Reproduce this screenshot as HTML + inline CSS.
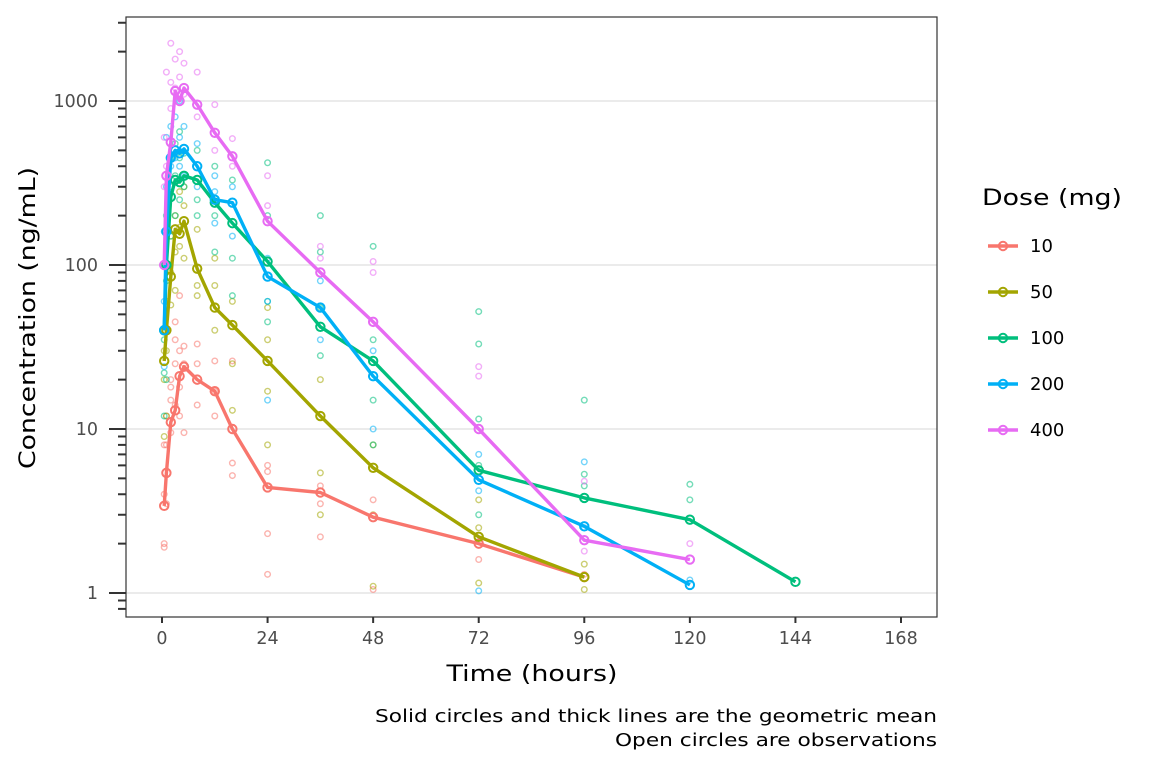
<!DOCTYPE html>
<html><head><meta charset="utf-8"><style>
body{margin:0;background:#fff;font-family:"Liberation Sans","DejaVu Sans",sans-serif}
svg text{font-family:"DejaVu Sans","Liberation Sans",sans-serif}
</style></head><body>
<svg id="chart" width="1152" height="768" xmlns="http://www.w3.org/2000/svg">
<g id="grid"></g><g id="obs"></g><g id="means"></g><g id="axes"></g><g id="legend"></g>
<text x="0" y="0" transform="translate(35,318) rotate(-90)" text-anchor="middle" font-size="22" fill="#000" textLength="302" lengthAdjust="spacingAndGlyphs">Concentration (ng/mL)</text>
<text x="532" y="681" text-anchor="middle" font-size="22" fill="#000" textLength="171" lengthAdjust="spacingAndGlyphs">Time (hours)</text>
<text x="937" y="722" text-anchor="end" font-size="18" fill="#000" textLength="562" lengthAdjust="spacingAndGlyphs">Solid circles and thick lines are the geometric mean</text>
<text x="937" y="746" text-anchor="end" font-size="18" fill="#000" textLength="322" lengthAdjust="spacingAndGlyphs">Open circles are observations</text>
</svg>
<script>
const doses=["10","50","100","200","400"];
const colors=["#F8766D","#A3A500","#00BF7D","#00B0F6","#E76BF3"];
const times=[0.5,1,2,3,4,5,8,12,16,24,36,48,72,96,120,144];
const mean10=[3.4,5.4,11,13,21,24,20,17,10,4.4,4.1,2.9,2.0,1.25];
const mean50=[26,40,85,165,155,185,95,55,43,26,12,5.8,2.2,1.25];
const mean100=[40,100,260,330,320,350,330,240,180,105,42,26,5.6,3.8,2.8,1.17];
const mean200=[40,160,450,500,480,510,400,250,240,85,55,21,4.9,2.55,1.12];
const mean400=[100,350,560,1150,1000,1200,950,640,460,185,90,45,10,2.1,1.6];
const means=[mean10,mean50,mean100,mean200,mean400];
const obs10=[[0.5,2],[0.5,1.9],[0.5,4],[0.5,8],[1,3.5],[1,8],[1,12],[2,15],[2,18],[2,9.5],[2,20],[3,25],[3,35],[3,45],[3,14],[4,18],[4,30],[4,65],[4,12],[5,9.5],[5,25],[5,32],[8,14],[8,25],[8,33],[12,12],[12,17],[12,26],[16,5.2],[16,6.2],[16,26],[24,1.3],[24,2.3],[24,5.5],[24,6],[36,2.2],[36,3.5],[36,4.5],[48,1.05],[48,3.7],[72,1.6],[96,1.3]];
const obs50=[[0.5,9],[0.5,20],[0.5,30],[1,12],[1,30],[1,60],[2,57],[2,90],[2,150],[3,70],[3,120],[3,200],[4,130],[4,170],[4,280],[5,230],[5,300],[5,110],[8,65],[8,75],[8,165],[12,40],[12,75],[12,110],[16,13],[16,25],[16,60],[24,8],[24,17],[24,35],[24,55],[36,3],[36,5.4],[36,20],[48,1.1],[48,3],[48,8],[72,1.15],[72,2.5],[72,3.7],[96,1.05],[96,1.5]];
const obs100=[[0.5,12],[0.5,22],[0.5,35],[1,20],[1,80],[1,200],[2,300],[2,450],[2,150],[3,200],[3,350],[3,550],[4,250],[4,450],[4,650],[5,300],[5,480],[8,200],[8,250],[8,500],[12,120],[12,200],[12,400],[16,65],[16,110],[16,330],[24,45],[24,60],[24,200],[24,420],[36,28],[36,55],[36,120],[36,200],[48,8],[48,15],[48,35],[48,130],[72,3],[72,6],[72,11.5],[72,33],[72,52],[96,4.5],[96,5.3],[96,15],[120,3.7],[120,4.6]];
const obs200=[[0.5,24],[0.5,60],[0.5,160],[1,100],[1,300],[1,600],[2,400],[2,700],[3,450],[3,800],[4,400],[4,600],[4,1000],[5,350],[5,700],[8,300],[8,550],[12,180],[12,280],[12,350],[16,150],[16,300],[24,15],[24,60],[24,110],[36,35],[36,80],[48,10],[48,30],[72,1.03],[72,4.2],[72,7],[96,2.5],[96,6.3],[120,1.2]];
const obs400=[[0.5,300],[0.5,600],[1,400],[1,1500],[2,900],[2,1300],[2,2250],[3,1200],[3,1800],[4,1100],[4,1400],[4,2000],[5,1700],[5,1100],[8,800],[8,1500],[12,500],[12,950],[16,400],[16,590],[24,230],[24,350],[36,110],[36,130],[48,90],[48,105],[72,21],[72,24],[96,1.8],[96,4.8],[120,2]];
const obsAll=[obs10,obs50,obs100,obs200,obs400];
const yTicks=[1,10,100,1000];
const xTicks=[0,24,48,72,96,120,144,168];
const ns="http://www.w3.org/2000/svg";
const L=126,R=937,T=17,B=617;
function xs(t){return 162+t*(901-162)/168;}
function ys(v){return 593-Math.log10(v)*164;}
function mk(tag,a,p){const e=document.createElementNS(ns,tag);for(const k in a)e.setAttribute(k,a[k]);p.appendChild(e);return e;}
const grid=document.getElementById('grid'),axes=document.getElementById('axes');
for(const v of yTicks){
 const g=mk('line',{x1:L,x2:R,y1:ys(v),y2:ys(v),stroke:'#ebebeb','stroke-width':2},grid);
 
 
 const tk=mk('line',{x1:109,x2:L,y1:ys(v),y2:ys(v),stroke:'#333','stroke-width':2},axes);
 
 
 const t=mk('text',{x:98,y:ys(v)+6,'text-anchor':'end','font-size':17.5,fill:'#4d4d4d'},axes);
 t.textContent=v;
 
 
}
for(let d=-1;d<=3;d++)for(let m=2;m<=9;m++){const v=m*Math.pow(10,d);const y=ys(v);if(y<T||y>B)continue;
 const tk=mk('line',{x1:118,x2:L,y1:y,y2:y,stroke:'#333','stroke-width':2},axes);
 
 }
for(const v of xTicks){
 const tk=mk('line',{x1:xs(v),x2:xs(v),y1:B,y2:B+6,stroke:'#333','stroke-width':2},axes);
 
 
 const t=mk('text',{x:xs(v),y:B+27,'text-anchor':'middle','font-size':17.5,fill:'#4d4d4d'},axes);
 t.textContent=v;
 
 
}
const border=mk('rect',{x:L,y:T,width:R-L,height:B-T,fill:'none',stroke:'#333','stroke-width':1.2},axes);


const og=document.getElementById('obs');
obsAll.forEach((arr,i)=>{arr.forEach(p=>{
 const c=mk('circle',{cx:xs(p[0]),cy:ys(p[1]),r:2.8,fill:'none',stroke:colors[i],'stroke-width':1.4,opacity:0.55},og);
 
 
});});
const mg=document.getElementById('means');
means.forEach((arr,i)=>{
 const pts=arr.map((v,j)=>xs(times[j])+','+ys(v)).join(' ');
 const pl=mk('polyline',{points:pts,fill:'none',stroke:colors[i],'stroke-width':3.4,'stroke-linejoin':'round'},mg);
 
 
 arr.forEach((v,j)=>{
  const c=mk('circle',{cx:xs(times[j]),cy:ys(v),r:4.2,fill:'none',stroke:colors[i],'stroke-width':2},mg);
  
  
 });
});
const lg=document.getElementById('legend');
const lt=mk('text',{x:982,y:205,'font-size':22,fill:'#000',textLength:140,lengthAdjust:'spacingAndGlyphs'},lg);
lt.textContent='Dose (mg)';


doses.forEach((d,i)=>{
 const y=246+i*46;
 const l=mk('line',{x1:988,x2:1018,y1:y,y2:y,stroke:colors[i],'stroke-width':3.4},lg);
 
 
 const c=mk('circle',{cx:1003,cy:y,r:4.2,fill:'none',stroke:colors[i],'stroke-width':2},lg);
 
 
 const t=mk('text',{x:1030,y:y+6,'font-size':18,fill:'#000'},lg);
 t.textContent=d;
 
 
});
</script>
</body></html>
